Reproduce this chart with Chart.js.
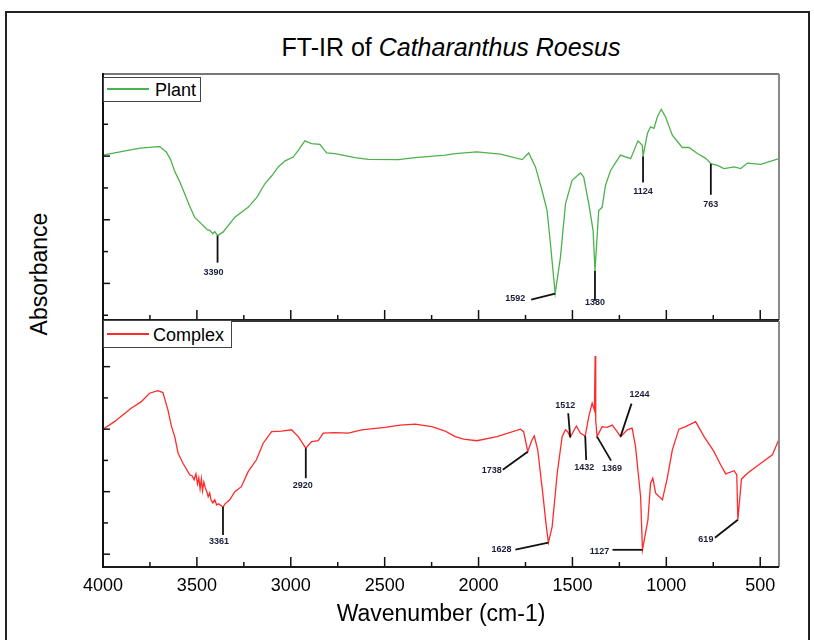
<!DOCTYPE html>
<html>
<head>
<meta charset="utf-8">
<title>FT-IR of Catharanthus Roesus</title>
<script src="https://cdn.jsdelivr.net/npm/chart.js@4.4.0/dist/chart.umd.min.js"></script>
<style>
  html,body{margin:0;padding:0;background:#fff;}
  #wrap{position:relative;width:814px;height:640px;overflow:hidden;font-family:"Liberation Sans",Arial,sans-serif;color:#000;}
  #wrap canvas{position:absolute;left:0;top:0;}
  .frame{position:absolute;left:5px;top:11px;width:801px;height:700px;border:2px solid #222;}
  .title{position:absolute;left:251px;top:35px;width:400px;text-align:center;font-size:25px;line-height:1;white-space:nowrap;}
  .ylab{position:absolute;left:39px;top:274px;font-size:23px;line-height:1;white-space:nowrap;transform:translate(-50%,-50%) rotate(-90deg);}
  .key{position:absolute;left:103px;box-sizing:border-box;border:1.5px solid #444;background:#fff;font-size:18px;line-height:1;z-index:2;}
  .key b{position:absolute;left:3px;width:42px;height:2px;}
  .key span{position:absolute;}
</style>
</head>
<body>
<div id="wrap">
  <div class="frame"></div>
  <div class="title">FT-IR of <i>Catharanthus Roesus</i></div>
  <div class="ylab">Absorbance</div>
  <canvas id="plantChart" width="814" height="640"></canvas>
  <canvas id="complexChart" width="814" height="640"></canvas>
  <div class="key" style="top:77px;width:98px;height:25px;">
    <b style="top:10px;background:#4cb24c;"></b><span style="left:51px;top:3px;">Plant</span>
  </div>
  <div class="key" style="top:320px;width:129px;height:28px;">
    <b style="top:12px;background:#ff2a2a;"></b><span style="left:49px;top:5px;">Complex</span>
  </div>
</div>
<script>
// spectra (wavenumber in cm-1, absorbance in arbitrary units)
const plantWavenumber = [4000,3868,3800,3725,3698,3663,3640,3618,3590,3565,3540,3512,3476,3460,3445,3430,3415,3405,3390,3361,3298,3227,3180,3138,3100,3067,3030,2987,2960,2925,2889,2845,2809,2765,2658,2587,2427,2338,2178,2124,2009,1884,1768,1733,1697,1662,1635,1617,1592,1564,1537,1502,1457,1440,1413,1390,1380,1360,1342,1324,1297,1244,1190,1151,1128,1124,1101,1084,1066,1048,1027,1004,968,915,879,835,790,763,728,693,639,604,568,497,400];
const plantAbsorbance = [0.803,0.818,0.825,0.829,0.830,0.813,0.789,0.752,0.718,0.682,0.645,0.608,0.587,0.578,0.569,0.566,0.556,0.563,0.550,0.561,0.608,0.639,0.671,0.713,0.739,0.766,0.785,0.797,0.818,0.848,0.839,0.837,0.810,0.808,0.795,0.790,0.789,0.795,0.803,0.808,0.813,0.806,0.789,0.810,0.766,0.692,0.629,0.524,0.368,0.482,0.650,0.724,0.747,0.734,0.650,0.566,0.440,0.629,0.639,0.708,0.755,0.803,0.792,0.848,0.834,0.799,0.871,0.892,0.887,0.923,0.947,0.923,0.866,0.827,0.827,0.808,0.793,0.776,0.771,0.761,0.766,0.761,0.778,0.774,0.792];

const complexWavenumber = [4000,3939,3850,3796,3752,3708,3681,3654,3635,3618,3600,3574,3538,3525,3515,3505,3497,3490,3483,3476,3470,3463,3455,3447,3440,3432,3425,3415,3405,3395,3384,3370,3361,3350,3325,3298,3263,3227,3183,3147,3102,3049,2996,2960,2920,2889,2854,2827,2765,2694,2622,2498,2418,2338,2249,2178,2151,2124,2080,2009,1902,1777,1760,1738,1715,1703,1685,1662,1639,1628,1608,1581,1555,1537,1525,1512,1479,1457,1432,1413,1395,1383,1379,1376,1369,1342,1315,1288,1262,1244,1208,1182,1164,1137,1127,1098,1084,1072,1057,1021,995,968,933,897,844,799,746,711,684,639,625,619,600,568,497,435,400];
const complexAbsorbance = [0.700,0.724,0.767,0.788,0.815,0.823,0.817,0.761,0.708,0.676,0.623,0.591,0.554,0.550,0.538,0.557,0.525,0.544,0.509,0.541,0.503,0.531,0.512,0.500,0.484,0.496,0.474,0.464,0.474,0.458,0.461,0.455,0.451,0.461,0.474,0.500,0.516,0.564,0.602,0.655,0.692,0.694,0.698,0.676,0.639,0.660,0.663,0.687,0.689,0.687,0.698,0.706,0.713,0.716,0.708,0.694,0.685,0.676,0.668,0.663,0.676,0.700,0.692,0.628,0.666,0.678,0.634,0.516,0.388,0.337,0.388,0.559,0.676,0.698,0.692,0.674,0.710,0.687,0.678,0.740,0.783,0.761,0.934,0.729,0.676,0.708,0.706,0.713,0.692,0.676,0.698,0.703,0.644,0.484,0.314,0.410,0.527,0.543,0.495,0.474,0.543,0.634,0.700,0.708,0.724,0.676,0.628,0.586,0.557,0.567,0.554,0.410,0.540,0.559,0.591,0.618,0.668];

const xMajorTicks = [4000,3500,3000,2500,2000,1500,1000,500];
const xMinorTicks = [3750,3250,2750,2250,1750,1250,750];
const yTicks = [0.3,0.4,0.5,0.6,0.7,0.8,0.9];

const plantPeaks = [3390,1592,1380,1124,763];
const complexPeaks = [3361,2920,1738,1628,1512,1432,1369,1244,1127,619];

// where each peak's leader line ends and its label sits, relative to the peak (px)
const peakPlacement = {
  plant: {
    3390:{line:[0,27],text:[-4,37]}, 1592:{line:[-24,6],text:[-40,5]},
    1380:{line:[0,30],text:[0,32]}, 1124:{line:[0,26],text:[0,35]},
    763:{line:[0,31],text:[0,41]}
  },
  complex: {
    3361:{line:[0,28],text:[-4,35]}, 2920:{line:[0,30],text:[-3,37]},
    1738:{line:[-25,18],text:[-36,19]}, 1628:{line:[-33,7],text:[-47,7]},
    1512:{line:[-2,-24],text:[-5,-32]}, 1432:{line:[1,24],text:[-1,31]},
    1369:{line:[14,24],text:[15,32]}, 1244:{line:[11,-33],text:[19,-42]},
    1127:{line:[-30,0],text:[-43,2]}, 619:{line:[-23,18],text:[-32,20]}
  }
};

const FONT = '"Liberation Sans", Arial, sans-serif';
Chart.defaults.font.family = FONT;

function seg(ctx, x1, y1, x2, y2, color, w){
  ctx.beginPath(); ctx.strokeStyle = color; ctx.lineWidth = w;
  ctx.moveTo(x1, y1); ctx.lineTo(x2, y2); ctx.stroke();
}

// box edges + inward tick marks
const frameTicks = {
  id: 'frameTicks',
  afterDraw(chart, args, o){
    const {ctx, chartArea: a, scales: {x, y}} = chart;
    ctx.save();
    xMajorTicks.forEach(v => { const px = x.getPixelForValue(v); seg(ctx, px, a.bottom, px, a.bottom - 10, '#111', 1.5); });
    xMinorTicks.forEach(v => { const px = x.getPixelForValue(v); seg(ctx, px, a.bottom, px, a.bottom - 5, '#111', 1.5); });
    yTicks.forEach((v, i) => {
      const py = y.getPixelForValue(v);
      const long = (i % 2) === o.longParity;
      seg(ctx, a.left, py, a.left + (long ? 7 : 5), py, '#111', 1.5);
    });
    seg(ctx, a.left, a.top, a.right, a.top, o.top, 2);
    seg(ctx, a.right, a.top, a.right, a.bottom, '#8a8a8a', 2);
    seg(ctx, a.left, a.bottom, a.right, a.bottom, '#1a1a1a', 2);
    seg(ctx, a.left, a.top - 1, a.left, a.bottom + 1, '#111', 2);
    ctx.restore();
  }
};

// leader lines and wavenumber labels at the marked peaks
const peakLabels = {
  id: 'peakLabels',
  afterDatasetsDraw(chart, args, o){
    const {ctx, scales: {x, y}} = chart;
    ctx.save();
    ctx.font = 'bold 9px ' + FONT;
    ctx.textAlign = 'center';
    ctx.textBaseline = 'middle';
    o.peaks.forEach(wn => {
      const v = o.values[o.wavenumbers.indexOf(wn)];
      const px = x.getPixelForValue(wn), py = y.getPixelForValue(v);
      const p = o.placement[wn];
      seg(ctx, px, py, px + p.line[0], py + p.line[1], '#111', 1.8);
      ctx.fillStyle = '#1b1e3a';
      ctx.fillText(String(wn), px + p.text[0], py + p.text[1]);
    });
    ctx.restore();
  }
};

function panel(id, wn, ab, color, yMin, yMax, withAxis, padding, frameOpts, peaks, placement){
  const x = {
    type: 'linear', reverse: true, min: 400, max: 4000,
    display: withAxis, position: 'bottom',
    grid: {display: false, drawTicks: false}, border: {display: false},
    ticks: {autoSkip: false, maxRotation: 0, padding: 8, color: '#000', font: {size: 18}, callback: v => String(v)},
    afterBuildTicks(s){ s.ticks = xMajorTicks.map(v => ({value: v})); },
    title: {display: true, text: 'Wavenumber (cm-1)', color: '#000', font: {size: 23}, padding: {top: 0, bottom: 12}}
  };
  if (withAxis) x.afterFit = s => { s.height = 73; };
  return new Chart(document.getElementById(id), {
    type: 'line',
    data: {
      datasets: [{
        data: wn.map((w, i) => ({x: w, y: ab[i]})),
        borderColor: color, borderWidth: 1.3,
        pointRadius: 0, tension: 0, fill: false
      }]
    },
    options: {
      responsive: false, animation: false,
      layout: {padding},
      plugins: {
        legend: {display: false}, tooltip: {enabled: false},
        frameTicks: frameOpts,
        peakLabels: {peaks, wavenumbers: wn, values: ab, placement}
      },
      scales: {
        x,
        y: {min: yMin, max: yMax, display: false}
      }
    },
    plugins: [frameTicks, peakLabels]
  });
}

panel('plantChart', plantWavenumber, plantAbsorbance, '#4cb24c', 0.285, 1.058, false,
  {top: 74, left: 103, right: 35, bottom: 320}, {top: '#777', longParity: 1}, plantPeaks, peakPlacement.plant);
panel('complexChart', complexWavenumber, complexAbsorbance, '#ff2a2a', 0.259, 1.046, true,
  {top: 321, left: 103, right: 35, bottom: 0}, {top: '#333', longParity: 0}, complexPeaks, peakPlacement.complex);
</script>
</body>
</html>
